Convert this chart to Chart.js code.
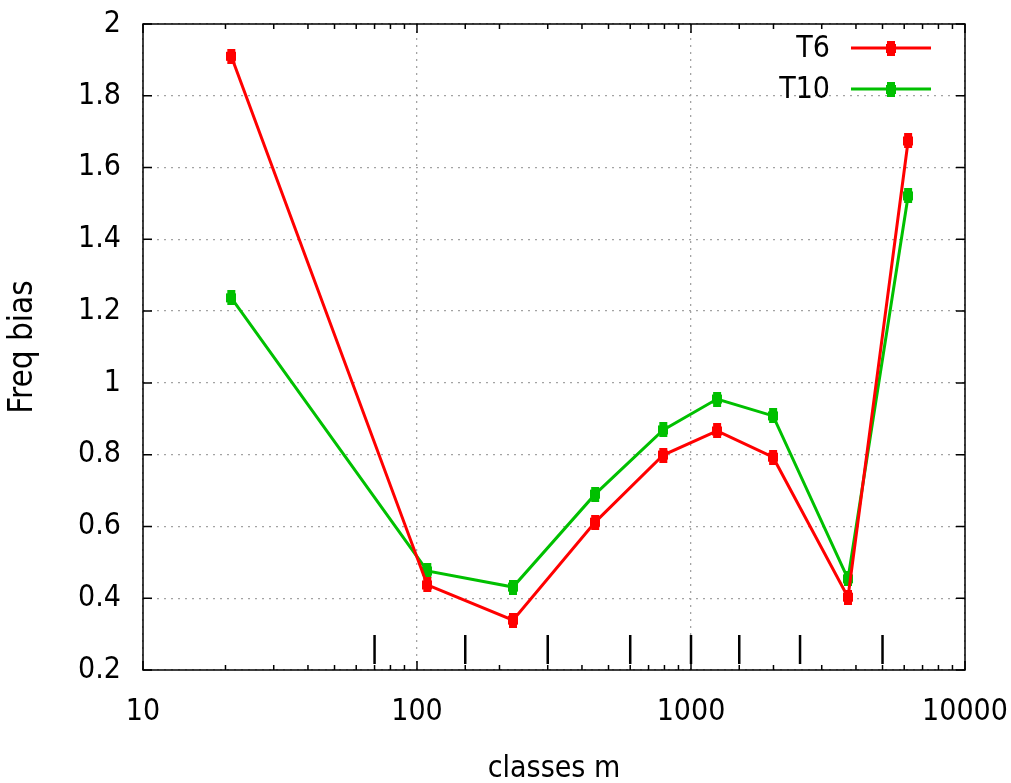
<!DOCTYPE html>
<html>
<head>
<meta charset="utf-8">
<script src="https://cdn.jsdelivr.net/npm/chart.js@4/dist/chart.umd.min.js"></script>
<style>
  html, body { margin: 0; padding: 0; background: #fff; }
  #wrap { width: 1011px; height: 783px; }
</style>
</head>
<body>
<div id="wrap"><canvas id="biasChart" width="1011" height="783"></canvas></div>
<script>
// Data
const classes = [21, 109, 224, 447, 792, 1245, 1993, 3741, 6200];
const t6Bias  = [1.91, 0.437, 0.339, 0.612, 0.799, 0.866, 0.793, 0.403, 1.674];
const t10Bias = [1.237, 0.476, 0.431, 0.690, 0.869, 0.955, 0.908, 0.454, 1.521];
const markValues = [70, 150, 300, 600, 1000, 1500, 2500, 5000];
const yTicks = [0.2, 0.4, 0.6, 0.8, 1, 1.2, 1.4, 1.6, 1.8, 2];

const fontFamily = '"Liberation Sans Narrow", "DejaVu Sans Condensed", "Liberation Sans", sans-serif';

function isMajor(v) {
    const l = Math.log10(v);
    return Math.abs(l - Math.round(l)) < 1e-6;
}

// tall-ish filled marker, like the stretched gnuplot points
function makeMarker(color) {
    const c = document.createElement('canvas');
    c.width = 10; c.height = 15;
    const g = c.getContext('2d');
    g.fillStyle = color;
    g.fillRect(1, 0, 8, 15);
    g.fillRect(0, 3, 10, 9);
    return c;
}
const redMarker = makeMarker('#ff0000');
const greenMarker = makeMarker('#00c000');

// Frame, inward tick marks, the tall marks near the bottom and the legend
const framePlugin = {
    id: 'frame',
    afterDraw(chart) {
        const { ctx, chartArea: a, scales } = chart;
        ctx.save();
        ctx.strokeStyle = '#000';
        ctx.lineWidth = 1.5;
        ctx.strokeRect(a.left, a.top, a.right - a.left, a.bottom - a.top);

        // x ticks, bottom and top
        scales.x.ticks.forEach(t => {
            const px = scales.x.getPixelForValue(t.value);
            const len = isMajor(t.value) ? 9 : 5;
            ctx.beginPath();
            ctx.moveTo(px, a.bottom); ctx.lineTo(px, a.bottom - len);
            ctx.moveTo(px, a.top); ctx.lineTo(px, a.top + len);
            ctx.stroke();
        });
        // y ticks, left and right
        yTicks.forEach(v => {
            const py = scales.y.getPixelForValue(v);
            ctx.beginPath();
            ctx.moveTo(a.left, py); ctx.lineTo(a.left + 9, py);
            ctx.moveTo(a.right, py); ctx.lineTo(a.right - 9, py);
            ctx.stroke();
        });
        // tall marks
        ctx.lineWidth = 2.5;
        markValues.forEach(v => {
            const px = scales.x.getPixelForValue(v);
            ctx.beginPath();
            ctx.moveTo(px, a.bottom - 35); ctx.lineTo(px, a.bottom - 6);
            ctx.stroke();
        });

        // legend
        ctx.font = '30px ' + fontFamily;
        ctx.textAlign = 'right';
        ctx.textBaseline = 'middle';
        chart.data.datasets.forEach((ds, i) => {
            const y = a.top + 24 + i * 41;
            ctx.fillStyle = '#000';
            ctx.fillText(ds.label, a.right - 135, y + 1);
            ctx.strokeStyle = ds.borderColor;
            ctx.lineWidth = 3;
            ctx.beginPath();
            ctx.moveTo(a.right - 114, y); ctx.lineTo(a.right - 34, y);
            ctx.stroke();
            ctx.drawImage(ds.pointStyle, a.right - 79, y - 7);
        });
        ctx.restore();
    }
};

new Chart(document.getElementById('biasChart').getContext('2d'), {
    type: 'line',
    data: {
        datasets: [
            {
                label: 'T6',
                data: classes.map((x, i) => ({ x: x, y: t6Bias[i] })),
                borderColor: '#ff0000',
                backgroundColor: '#ff0000',
                borderWidth: 3,
                pointStyle: redMarker,
                tension: 0
            },
            {
                label: 'T10',
                data: classes.map((x, i) => ({ x: x, y: t10Bias[i] })),
                borderColor: '#00c000',
                backgroundColor: '#00c000',
                borderWidth: 3,
                pointStyle: greenMarker,
                tension: 0
            }
        ]
    },
    options: {
        responsive: false,
        animation: false,
        layout: { padding: { top: 24, right: 46, left: 0, bottom: 0 } },
        plugins: {
            legend: { display: false },
            tooltip: { enabled: false }
        },
        scales: {
            x: {
                type: 'logarithmic',
                min: 10,
                max: 10000,
                border: { display: false, dash: [2, 5] },
                grid: {
                    drawTicks: false,
                    color: ctx => (ctx.tick && isMajor(ctx.tick.value)) ? '#a3a3a3' : 'rgba(0,0,0,0)',
                    lineWidth: 1.3
                },
                ticks: {
                    autoSkip: false,
                    maxRotation: 0,
                    padding: 24,
                    color: '#000',
                    font: { family: fontFamily, size: 30 },
                    callback: v => isMajor(v) ? String(Math.round(v)) : ''
                },
                title: {
                    display: true,
                    text: 'classes m',
                    color: '#000',
                    font: { family: fontFamily, size: 30 },
                    padding: { top: 0, bottom: -4 }
                },
                afterFit: scale => {
                    scale.height = 113;
                    scale.paddingLeft = 0;
                    scale.paddingRight = 0;
                }
            },
            y: {
                min: 0.2,
                max: 2,
                border: { display: false, dash: [2, 5] },
                grid: {
                    drawTicks: false,
                    color: '#a3a3a3',
                    lineWidth: 1.3
                },
                afterBuildTicks: scale => { scale.ticks = yTicks.map(v => ({ value: v })); },
                ticks: {
                    padding: 22,
                    color: '#000',
                    font: { family: fontFamily, size: 30 },
                    callback: v => String(+v.toFixed(1))
                },
                title: {
                    display: true,
                    text: 'Freq bias',
                    color: '#000',
                    font: { family: fontFamily, size: 33 },
                    padding: { top: 4, bottom: 0 }
                },
                afterFit: scale => {
                    scale.width = 143;
                    scale.paddingTop = 0;
                    scale.paddingBottom = 0;
                }
            }
        }
    },
    plugins: [framePlugin]
});
</script>
</body>
</html>
